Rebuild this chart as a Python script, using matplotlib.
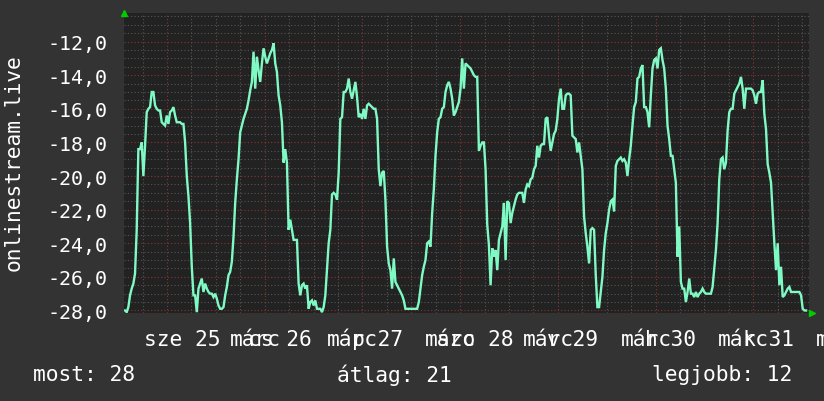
import numpy as np
import matplotlib
matplotlib.use("Agg")
import matplotlib.pyplot as plt
from matplotlib.ticker import MultipleLocator, FuncFormatter
import matplotlib.transforms as mtransforms

# --- adatok ---------------------------------------------------------------
# heti grafikon, orak marc. 25 00:00-tol szamitva
T0 = -10.3          # elso minta ideje (ora)
STEP = 0.41         # mintavetel (ora)

helyezes = [
    -28.0, -28.1, -27.8, -27.1, -26.7, -26.4, -25.8, -23.2, -18.4, -18.4,
    -18.0, -20.0, -18.2, -16.2, -16.0, -15.9, -15.0, -15.0, -15.8, -16.0,
    -16.1, -16.1, -16.8, -16.9, -17.0, -16.4, -16.9, -16.2, -16.1, -15.9,
    -16.4, -16.8, -16.8, -16.8, -16.9, -16.9, -18.0, -20.0, -21.2, -22.8,
    -25.4, -27.1, -27.1, -28.1, -26.7, -26.4, -26.1, -26.9, -26.4, -26.7,
    -26.9, -27.0, -27.0, -27.2, -27.0, -27.3, -27.7, -27.9, -27.9, -27.8,
    -27.1, -26.6, -25.9, -25.7, -25.1, -23.6, -21.6, -20.2, -19.0, -17.4,
    -17.0, -16.6, -16.3, -16.0, -15.5, -14.9, -14.4, -12.6, -14.8, -12.9,
    -13.7, -14.4, -13.3, -12.4, -12.9, -13.3, -13.0, -12.7, -12.5, -12.1,
    -13.3, -13.8, -15.2, -15.8, -16.8, -19.2, -18.4, -19.2, -23.2, -22.6,
    -23.2, -23.8, -23.8, -23.8, -26.4, -27.1, -26.5, -26.4, -26.7, -26.5,
    -27.9, -27.5, -27.4, -27.7, -27.4, -27.9, -27.9, -27.9, -28.1, -27.8,
    -27.1, -25.5, -24.0, -23.2, -21.1, -21.0, -21.1, -21.4, -19.8, -16.6,
    -16.5, -15.0, -15.0, -14.8, -14.2, -15.0, -15.4, -14.9, -14.4, -15.3,
    -16.5, -16.3, -16.6, -16.0, -16.6, -15.8, -15.7, -15.8, -15.9, -16.0,
    -16.0, -16.6, -19.6, -20.6, -19.8, -19.7, -21.4, -24.2, -25.2, -25.6,
    -26.7, -24.9, -26.3, -26.5, -26.7, -26.9, -27.1, -27.4, -27.9, -27.9,
    -27.9, -27.9, -27.9, -27.9, -27.9, -27.9, -27.5, -26.7, -25.9, -25.4,
    -25.0, -24.0, -23.9, -24.2, -22.2, -20.8, -18.8, -17.4, -16.6, -16.5,
    -16.0, -15.9, -15.0, -14.6, -14.4, -14.8, -15.4, -16.4, -16.2, -15.9,
    -15.6, -14.8, -13.0, -14.8,
    -13.3, -13.4, -13.5, -13.6, -13.8, -14.0, -14.1, -14.1, -18.5, -18.2,
    -18.0, -18.0, -19.6, -22.9, -24.1, -26.5, -24.3, -24.8, -24.4, -25.6,
    -23.8, -23.4, -23.0, -21.6, -25.0, -21.5, -21.6, -22.8, -22.2, -21.8,
    -21.4, -21.1, -21.0, -21.0, -21.0, -21.6, -20.8, -20.5, -20.6, -20.2,
    -20.1, -19.6, -19.4, -18.2, -18.9, -18.2, -18.1, -18.1, -16.6, -16.5,
    -17.6, -18.5, -18.0, -17.5, -17.3, -16.6, -15.4, -14.8, -16.0, -16.0,
    -15.2, -15.1, -15.1, -15.2, -17.6, -17.7, -17.8, -18.6, -18.0, -18.8,
    -19.6, -22.4, -23.4, -24.2, -25.2, -23.2, -23.1, -23.2, -25.9, -27.8,
    -27.8, -26.9, -26.0, -24.4, -23.4, -22.8, -22.0, -21.5, -21.4, -22.1,
    -19.4, -19.1, -19.0, -18.9, -19.1, -19.0, -19.2, -20.0, -19.0, -18.2,
    -17.0, -15.9, -15.6, -14.2, -14.1, -13.6, -13.4, -15.9, -15.9, -16.2,
    -17.1, -15.2, -13.6, -13.1, -13.0, -13.6, -12.5, -12.4, -13.1, -13.6,
    -14.8, -17.0, -17.8, -18.8, -18.8, -19.6, -20.4, -24.8, -23.0, -26.3,
    -26.7, -26.7, -27.5, -26.9, -26.1, -27.0, -27.0, -27.2, -26.9, -27.2,
    -27.0, -26.9, -26.7, -26.9, -27.0, -27.0, -27.0, -27.0, -26.6, -25.5,
    -24.4, -22.8, -20.2, -19.0, -18.9, -19.6, -19.2, -17.3, -16.2, -16.0,
    -16.0, -15.1, -14.9, -14.7, -14.5, -14.1, -14.8, -16.0, -14.8, -14.8,
    -14.8, -14.8, -14.9, -15.2, -15.7, -15.1, -15.0, -15.0, -14.3, -16.3,
    -17.2, -19.3, -19.8, -20.4, -22.2, -24.0, -25.6, -24.0, -26.5, -25.4,
    -27.2, -27.1, -26.9, -26.7, -26.6, -26.9, -26.9, -26.9, -26.9, -26.9,
    -26.9, -27.1, -27.9, -28.0, -28.0,
]

napok = [25, 26, 27, 28, 29, 30, 31, 32]
het_napjai = ["sze", "cs", "p", "szo", "v", "h", "k", ""]
honap = ["", "márc", "márc", "márc", "márc", "márc", "márc", "márc"]

statisztika = ["most: 28", "átlag: 21", "legjobb: 12"]
y_cimke = "onlinestream.live"

# --- megjelenes -------------------------------------------------------------
BG = "#333333"
PLOT_BG = "#222222"
LINE = "#80fac4"
TXT = "#ffffff"
MONO = "DejaVu Sans Mono"
FS = 15.3      # feliratok
FS_Y = 14.4    # y tengely szamok

plt.rcParams['font.family'] = [MONO, 'DejaVu Sans']

ido = T0 + np.arange(len(helyezes)) * STEP

fig = plt.figure(figsize=(8.24, 4.02), dpi=100, facecolor=BG)
ax = fig.add_axes([124 / 824, (402 - 314) / 402, 685 / 824, 300 / 402])
ax.set_facecolor(PLOT_BG)

ax.set_xlim(-10.55, 157.7)
ax.set_ylim(-28.15, -10.3)

# racsvonalak
ax.xaxis.set_major_locator(MultipleLocator(24))
ax.xaxis.set_minor_locator(MultipleLocator(6))
ax.yaxis.set_major_locator(MultipleLocator(2))
ax.yaxis.set_minor_locator(MultipleLocator(0.5))
ax.grid(which='minor', color='#555555', linestyle=(0, (1, 2)), linewidth=0.8)
ax.grid(which='major', color='#8a3535', linestyle=(0, (1, 2)), linewidth=0.8)
ax.set_axisbelow(True)

for s in ax.spines.values():
    s.set_visible(False)

ax.tick_params(which='both', length=0)
ax.tick_params(axis='y', colors=TXT, labelsize=FS_Y, pad=12)
ax.yaxis.set_major_formatter(FuncFormatter(lambda v, p: f"{v:.1f}".replace('.', ',')))
ax.set_yticks(np.arange(-28, -11, 2))
ax.set_xticklabels([])

ax.plot(ido, helyezes, color=LINE, linewidth=1.7, solid_joinstyle='miter')

# datum cimkek (egymasra csuszo rrdtool feliratok)
trans = mtransforms.blended_transform_factory(ax.transData, ax.transAxes)
for d, wd, hn in zip(napok, het_napjai, honap):
    x0 = (d - 25) * 24
    if wd:
        ax.text(x0 + 3.7, -0.055, f"{wd} {d}", transform=trans, ha='center', va='top',
                color=TXT, fontsize=FS, clip_on=False)
    if hn:
        ax.text(x0 - 8.6, -0.055, hn, transform=trans, ha='left', va='top',
                color=TXT, fontsize=FS, clip_on=False)

# tengely nyilak
ax.plot([0], [1.0], marker='^', color='#00cc00', markersize=5, transform=ax.transAxes,
        clip_on=False)
ax.plot([1.004], [0.0], marker='>', color='#00cc00', markersize=5, transform=ax.transAxes,
        clip_on=False)

fig.text(14 / 824, (402 - 163) / 402, y_cimke, rotation=90, ha='center', va='center',
         color=TXT, fontsize=FS)

fig.text(33 / 824, 27 / 402, statisztika[0], ha='left', va='center', color=TXT, fontsize=FS)
fig.text(337 / 824, 27 / 402, statisztika[1], ha='left', va='center', color=TXT, fontsize=FS)
fig.text(792 / 824, 27 / 402, statisztika[2], ha='right', va='center', color=TXT, fontsize=FS)

fig.savefig("out.png", dpi=100, facecolor=BG)
